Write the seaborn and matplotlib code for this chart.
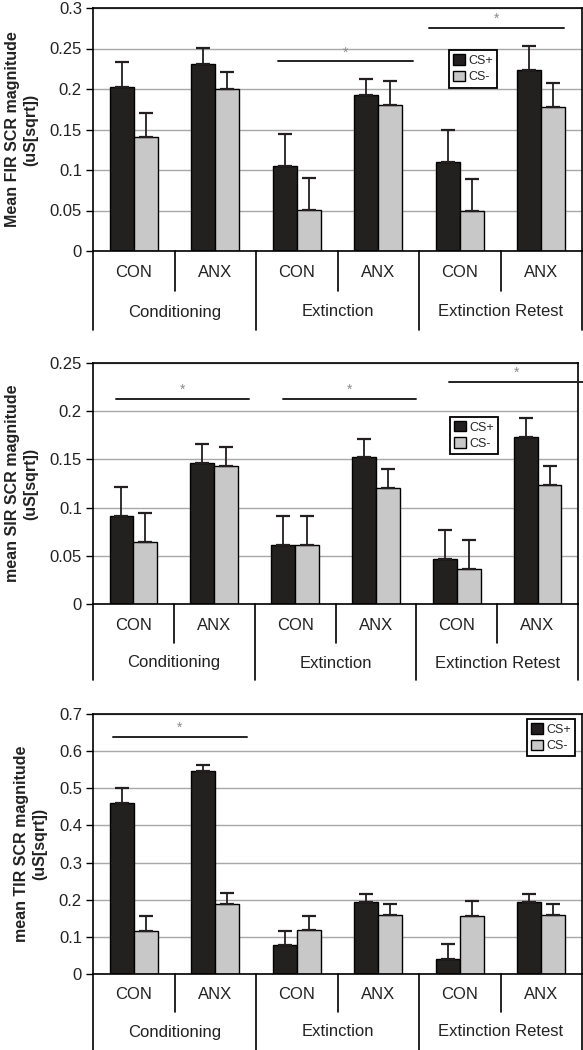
import numpy as np
import pandas as pd
import matplotlib
matplotlib.use('Agg')
import matplotlib.pyplot as plt
import matplotlib.transforms as mtransforms
from matplotlib.patches import Patch
from matplotlib.ticker import FuncFormatter
import seaborn as sns

# Data
phases = ['Conditioning', 'Extinction', 'Extinction Retest']
groups = ['CON', 'ANX']
cs_levels = ['CS+', 'CS-']

fir_csp = [0.203, 0.231, 0.105, 0.193, 0.110, 0.223]
fir_csp_sem = [0.030, 0.020, 0.039, 0.019, 0.040, 0.030]
fir_csm = [0.141, 0.200, 0.051, 0.180, 0.050, 0.178]
fir_csm_sem = [0.029, 0.021, 0.039, 0.030, 0.039, 0.029]

sir_csp = [0.091, 0.146, 0.061, 0.152, 0.047, 0.173]
sir_csp_sem = [0.030, 0.020, 0.030, 0.019, 0.030, 0.020]
sir_csm = [0.064, 0.143, 0.061, 0.120, 0.036, 0.123]
sir_csm_sem = [0.030, 0.020, 0.030, 0.020, 0.030, 0.020]

tir_csp = [0.461, 0.546, 0.077, 0.193, 0.041, 0.193]
tir_csp_sem = [0.040, 0.018, 0.038, 0.022, 0.040, 0.022]
tir_csm = [0.116, 0.189, 0.119, 0.159, 0.155, 0.159]
tir_csm_sem = [0.039, 0.029, 0.036, 0.030, 0.041, 0.030]

# significance bars: (x start, x end, y) in data units
fir_sig = [(1.77, 3.43, 0.234), (3.62, 5.28, 0.2755)]
sir_sig = [(-0.215, 1.43, 0.213), (1.85, 3.50, 0.213), (3.906, 5.564, 0.2306)]
tir_sig = [(-0.255, 1.39, 0.639)]

BLACK = '#231f20'
GREY = '#c8c8c8'
TXT = '#222222'

sns.set_theme(style='white')
plt.rcParams['font.family'] = ['Liberation Sans', 'DejaVu Sans']

FIG_W, FIG_H = 583, 1050
fig = plt.figure(figsize=(FIG_W / 100, FIG_H / 100), dpi=100)


def make_df(csp, csm):
    rows = []
    for i, (p, g) in enumerate([(p, g) for p in phases for g in groups]):
        rows.append({'cond': f'{p}|{g}', 'cs': 'CS+', 'value': csp[i]})
        rows.append({'cond': f'{p}|{g}', 'cs': 'CS-', 'value': csm[i]})
    return pd.DataFrame(rows)


def draw_panel(rect, csp, csp_sem, csm, csm_sem, ymax, ystep, ylabel, sig,
               leg_anchor, short_px, long_px, tick_pad, group_px):
    ax = fig.add_axes(rect)
    ax_h = rect[3] * FIG_H
    df = make_df(csp, csm)
    order = [f'{p}|{g}' for p in phases for g in groups]
    sns.barplot(data=df, x='cond', y='value', hue='cs', order=order,
                hue_order=cs_levels, palette={'CS+': BLACK, 'CS-': GREY},
                edgecolor='black', linewidth=1.0, width=0.59, errorbar=None,
                legend=False, ax=ax, zorder=2)

    # upper-only error bars
    for cont, sems in zip(ax.containers, [csp_sem, csm_sem]):
        xs = [b.get_x() + b.get_width() / 2 for b in cont]
        ys = [b.get_height() for b in cont]
        ax.errorbar(xs, ys, yerr=[np.zeros(len(sems)), sems], fmt='none',
                    ecolor=BLACK, elinewidth=1.3, capsize=5, capthick=1.6,
                    zorder=3)

    ax.set_xlim(-0.5, 5.5)
    ax.set_ylim(0, ymax)
    ax.set_yticks(np.arange(0, ymax + ystep / 2, ystep))
    ax.yaxis.set_major_formatter(FuncFormatter(lambda v, p: f'{v:g}'))
    ax.yaxis.grid(True, color='#a8a8a8', linewidth=1.0)
    ax.set_axisbelow(True)
    ax.tick_params(axis='y', left=True, length=5, width=1, color='black',
                   pad=3, labelsize=12, labelcolor=TXT)
    ax.set_xticks(range(6))
    ax.set_xticklabels(groups * 3)
    ax.tick_params(axis='x', length=0, pad=tick_pad, labelsize=12,
                   labelcolor=TXT)
    ax.set_xlabel('')
    ax.set_ylabel(ylabel, fontsize=11.5, fontweight='bold', labelpad=8,
                  color=TXT, linespacing=1.3)
    for s in ax.spines.values():
        s.set_color('black')
        s.set_linewidth(1.2)
        s.set_visible(True)

    trans = mtransforms.blended_transform_factory(ax.transData, ax.transAxes)
    # separators under the axis
    for x in [-0.5, 1.5, 3.5, 5.5]:
        ax.plot([x, x], [0, -long_px / ax_h], transform=trans, clip_on=False,
                color='black', lw=1.2)
    for x in [0.5, 2.5, 4.5]:
        ax.plot([x, x], [0, -short_px / ax_h], transform=trans, clip_on=False,
                color='black', lw=1.2)
    for i, p in enumerate(phases):
        ax.text(2 * i + 0.5, -group_px / ax_h, p, transform=trans,
                ha='center', va='center', fontsize=12, color=TXT)

    # significance lines
    for x0, x1, y in sig:
        ax.plot([x0, x1], [y, y], color=TXT, lw=1.4, clip_on=False,
                zorder=4)
        ax.text((x0 + x1) / 2, y + ymax * 0.008, '*', ha='center',
                va='bottom', fontsize=10, color='#8a8a8a')

    handles = [Patch(facecolor=BLACK, edgecolor='black', label='CS+'),
               Patch(facecolor=GREY, edgecolor='black', label='CS-')]
    leg = ax.legend(handles=handles, loc='upper left', bbox_to_anchor=leg_anchor,
                    fontsize=9, frameon=True, fancybox=False, framealpha=1,
                    edgecolor='black', handlelength=0.9, handleheight=0.9,
                    handletextpad=0.3, borderpad=0.35, labelspacing=0.3,
                    borderaxespad=0)
    leg.get_frame().set_linewidth(1.3)
    return ax


left = 93 / FIG_W
draw_panel([left, 1 - 251 / FIG_H, 489 / FIG_W, 243 / FIG_H],
           fir_csp, fir_csp_sem, fir_csm, fir_csm_sem, 0.3, 0.05,
           'Mean FIR SCR magnitude\n(uS[sqrt])', fir_sig, (0.728, 0.827),
           40, 79, 10, 61)
draw_panel([left, 1 - 604 / FIG_H, 485 / FIG_W, 241 / FIG_H],
           sir_csp, sir_csp_sem, sir_csm, sir_csm_sem, 0.25, 0.05,
           'mean SIR SCR magnitude\n(uS[sqrt])', sir_sig, (0.736, 0.777),
           39, 76, 10, 59)
draw_panel([left, 1 - 974 / FIG_H, 489 / FIG_W, 260 / FIG_H],
           tir_csp, tir_csp_sem, tir_csm, tir_csm_sem, 0.7, 0.1,
           'mean TIR SCR magnitude\n(uS[sqrt])', tir_sig, (0.8875, 0.981),
           38, 76, 9.5, 58)

fig.savefig('out.png', dpi=100)
